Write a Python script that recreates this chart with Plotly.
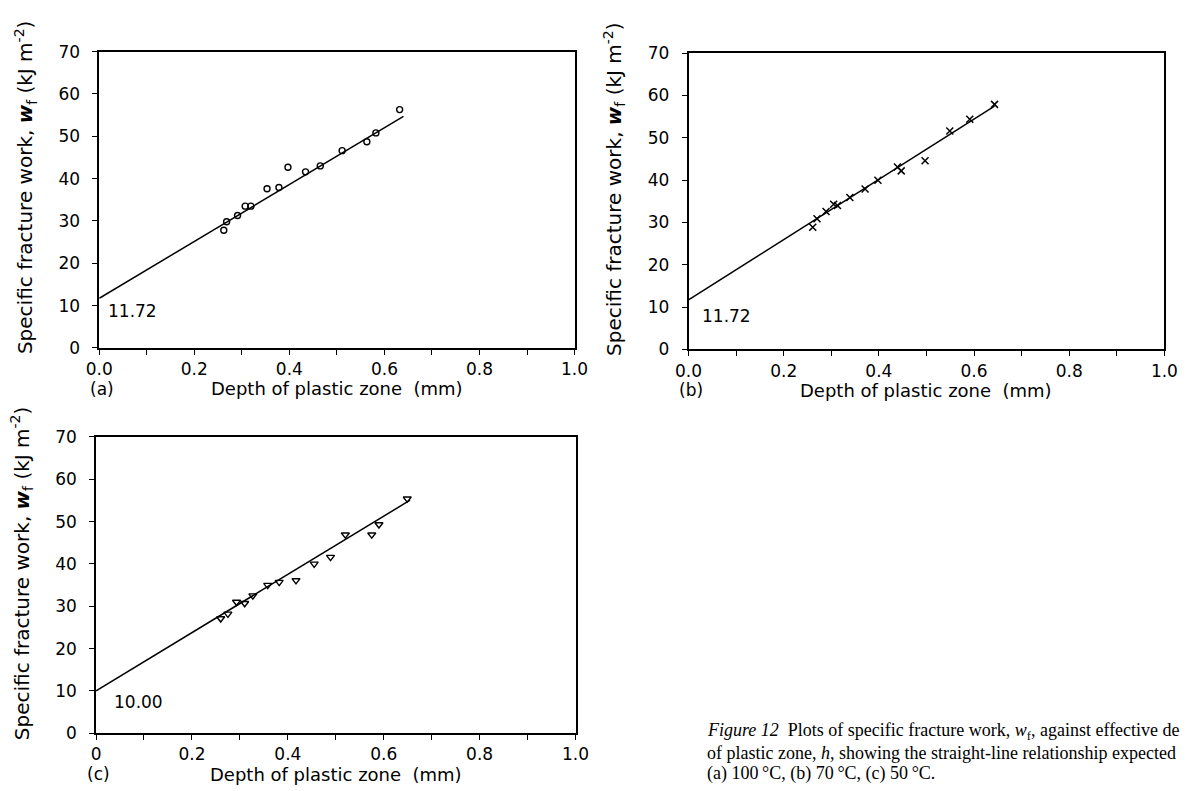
import plotly.graph_objects as go

W, H = 1196, 791

# ---------------- data ----------------
a_x = [0.262, 0.268, 0.291, 0.307, 0.319, 0.353, 0.378, 0.397, 0.434, 0.465, 0.511, 0.563, 0.582, 0.632]
a_y = [27.8, 29.8, 31.3, 33.5, 33.5, 37.6, 37.9, 42.7, 41.6, 43.0, 46.6, 48.7, 50.8, 56.3]

b_x = [0.261, 0.270, 0.289, 0.305, 0.313, 0.339, 0.371, 0.398, 0.439, 0.447, 0.497, 0.549, 0.591, 0.643]
b_y = [28.9, 30.9, 32.6, 34.3, 34.0, 35.9, 37.9, 40.0, 43.1, 42.2, 44.6, 51.6, 54.4, 57.9]

c_x = [0.260, 0.275, 0.293, 0.310, 0.327, 0.358, 0.382, 0.417, 0.455, 0.489, 0.520, 0.575, 0.590, 0.649]
c_y = [27.1, 28.2, 31.0, 30.7, 32.5, 35.0, 35.7, 36.1, 40.0, 41.6, 46.9, 46.9, 49.3, 55.4]

intercepts = [11.72, 11.72, 10.00]
slopes = [67.2, 71.2, 68.8]
line_end_x = [0.640, 0.643, 0.655]
intercept_labels = ["11.72", "11.72", "10.00"]
label_pos = [(0.069, 8.7), (0.079, 7.9), (0.089, 7.4)]
panel_letters = ["(a)", "(b)", "(c)"]

x_ticks = [0.0, 0.2, 0.4, 0.6, 0.8, 1.0]
x_ticktext_ab = ["0.0", "0.2", "0.4", "0.6", "0.8", "1.0"]
x_ticktext_c = ["0", "0.2", "0.4", "0.6", "0.8", "1.0"]
y_ticks = [0, 10, 20, 30, 40, 50, 60, 70]

x_title = "Depth of plastic zone  (mm)"
y_title = "Specific fracture work, <i><b>w</b></i><sub>f</sub> (kJ m<sup>-2</sup>)"

caption = [
    "<i>Figure 12</i>  Plots of specific fracture work, <i>w</i><sub>f</sub>, against effective de",
    "of plastic zone, <i>h</i>, showing the straight-line relationship expected",
    "(a) 100\u2009\u00b0C, (b) 70\u2009\u00b0C, (c) 50\u2009\u00b0C.",
]

# ---------------- layout geometry (pixels) ----------------
panels = [
    dict(x0=87.3, x1=574.0, y0=42.7, y1=346.7),   # (a)
    dict(x0=690.7, x1=1178.0, y0=44.3, y1=348.3),  # (b)
    dict(x0=84.0, x1=575.0, y0=438.0, y1=742.0),   # (c)
]
markers = [
    dict(symbol="circle-open", size=6, line=dict(width=1.4, color="black"), color="black"),
    dict(symbol="x-thin-open", size=7, line=dict(width=1.5, color="black"), color="black"),
    dict(symbol="triangle-down-open", size=7, line=dict(width=1.4, color="black"), color="black"),
]
series = [(a_x, a_y), (b_x, b_y), (c_x, c_y)]

FONT = "DejaVu Sans"
fig = go.Figure()
layout = dict(
    width=W, height=H, margin=dict(l=0, r=0, t=0, b=0),
    paper_bgcolor="white", plot_bgcolor="white", showlegend=False,
    font=dict(family=FONT, color="black", size=16),
)
annotations = []

for i, p in enumerate(panels):
    sfx = "" if i == 0 else str(i + 1)
    xa, ya = "x" + sfx, "y" + sfx
    xs, ys = series[i]
    fig.add_trace(go.Scatter(x=xs, y=ys, mode="markers", marker=markers[i],
                             xaxis=xa, yaxis=ya, cliponaxis=False))
    lx = [0.0, line_end_x[i]]
    ly = [intercepts[i] + slopes[i] * v for v in lx]
    fig.add_trace(go.Scatter(x=lx, y=ly, mode="lines", line=dict(color="black", width=1.5),
                             xaxis=xa, yaxis=ya))

    common = dict(showline=True, linecolor="black", linewidth=1.6, mirror=True,
                  showgrid=False, zeroline=False, ticks="outside", ticklen=5,
                  tickwidth=1.3, tickcolor="black",
                  tickfont=dict(family=FONT, size=17, color="black"))
    layout["xaxis" + sfx] = dict(
        common, domain=[p["x0"] / W, p["x1"] / W], range=[0, 1],
        tickvals=x_ticks, ticktext=(x_ticktext_c if i == 2 else x_ticktext_ab),
        minor=dict(dtick=0.1, tick0=0, ticks="outside", ticklen=5, tickwidth=1.3, tickcolor="black"),
        anchor=ya, ticklabelstandoff=0,
    )
    layout["yaxis" + sfx] = dict(
        common, domain=[1 - p["y1"] / H, 1 - p["y0"] / H], range=[0, 70],
        tickvals=y_ticks, anchor=xa, ticklabelstandoff=9,
    )

    # intercept label
    tx, ty = label_pos[i]
    annotations.append(dict(x=tx, y=ty, xref=xa, yref=ya, text=intercept_labels[i],
                            showarrow=False, font=dict(family=FONT, size=17, color="black")))
    # panel letter & x title
    annotations.append(dict(x=(p["x0"] + 3) / W, y=1 - (p["y1"] + 42) / H, xref="paper", yref="paper",
                            text=panel_letters[i], showarrow=False, xanchor="center", yanchor="middle",
                            font=dict(family=FONT, size=17, color="black")))
    annotations.append(dict(x=(p["x0"] + p["x1"]) / 2 / W, y=1 - (p["y1"] + 42) / H,
                            xref="paper", yref="paper", text=x_title, showarrow=False,
                            xanchor="center", yanchor="middle",
                            font=dict(family=FONT, size=18, color="black")))
    # y title
    annotations.append(dict(x=(p["x0"] - 76) / W, y=1 - ((p["y0"] + p["y1"]) / 2 - 12) / H,
                            xref="paper", yref="paper", text=y_title, showarrow=False,
                            textangle=-90, xanchor="center", yanchor="middle",
                            font=dict(family=FONT, size=20, color="black")))

cap_y = [740, 762, 783]
for line, yy in zip(caption, cap_y):
    annotations.append(dict(x=708 / W, y=1 - yy / H, xref="paper", yref="paper", text=line,
                            showarrow=False, xanchor="left", yanchor="middle", align="left",
                            font=dict(family="Liberation Serif", size=18, color="black")))

layout["annotations"] = annotations
fig.update_layout(**layout)
fig.write_html("out.html")
